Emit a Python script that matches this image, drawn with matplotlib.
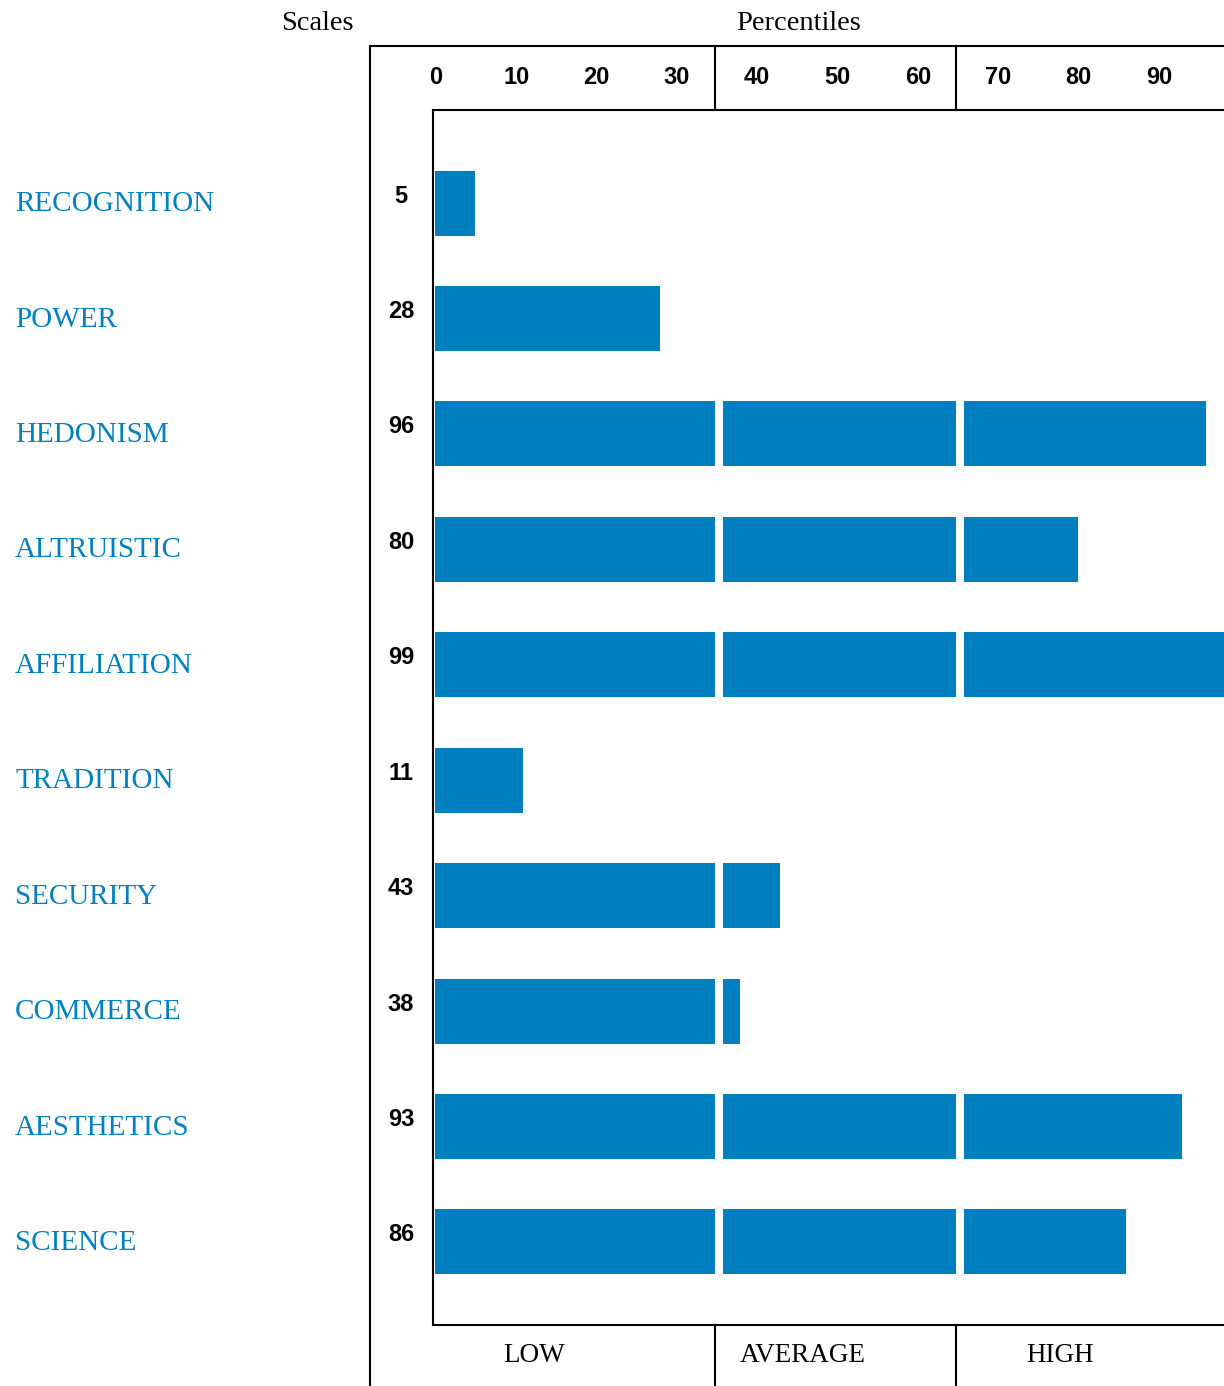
import numpy as np
import matplotlib
matplotlib.use('Agg')
from matplotlib import pyplot as plt
from matplotlib.lines import Line2D
from matplotlib.transforms import blended_transform_factory


# ---------------------------- Data ----------------------------
scales = ['RECOGNITION', 'POWER', 'HEDONISM', 'ALTRUISTIC', 'AFFILIATION',
          'TRADITION', 'SECURITY', 'COMMERCE', 'AESTHETICS', 'SCIENCE']
percentiles = [5, 28, 96, 80, 99, 11, 43, 38, 93, 86]
tick_values = [0, 10, 20, 30, 40, 50, 60, 70, 80, 90]
band_labels = ['LOW', 'AVERAGE', 'HIGH']

# ---------------------------- Style ----------------------------
BLUE = '#0080C1'
SERIF = 'Liberation Serif'
SANS = 'Liberation Sans'
W, H = 1224, 1386
CUTS = [34.8, 64.9]      # band boundaries (low/average, average/high)
GAP = 1.0                # white gap after each boundary


def fx(px):
    return px / W


def fy(py):
    return 1 - py / H


fig = plt.figure(figsize=(W / 100, H / 100), dpi=100)

# main plotting area
ax = fig.add_axes([fx(433), fy(1325), fx(1224) - fx(433), fy(110) - fy(1325)])
ax.set_xlim(-0.25, 98.2)
ax.set_ylim(9.72, -0.806)
ax.set_xticks([])
ax.set_yticks([])
ax.spines['right'].set_visible(False)
for s in ['left', 'top', 'bottom']:
    ax.spines[s].set_linewidth(1.5)

# bars, split in low / average / high segments
rows = np.arange(len(scales))
for i, v in zip(rows, percentiles):
    ax.barh(i, min(v, CUTS[0]), left=0, height=0.563, color=BLUE)
    if v > CUTS[0] + GAP:
        ax.barh(i, min(v, CUTS[1]) - (CUTS[0] + GAP), left=CUTS[0] + GAP, height=0.563, color=BLUE)
    if v > CUTS[1] + GAP:
        ax.barh(i, v - (CUTS[1] + GAP), left=CUTS[1] + GAP, height=0.563, color=BLUE)

# header tick labels
hdr = blended_transform_factory(ax.transData, fig.transFigure)
for t in tick_values:
    ax.text(t + 0.1, fy(78), str(t), transform=hdr, ha='center', va='center',
            fontsize=17, fontweight='bold', family=SANS, clip_on=False)

# band dividers in header and footer
for c in CUTS:
    ax.add_line(Line2D([c, c], [fy(46), fy(110)], transform=hdr, color='black', lw=1.5, clip_on=False))
    ax.add_line(Line2D([c, c], [fy(1325), fy(1386)], transform=hdr, color='black', lw=1.5, clip_on=False))

# outer frame
fig.add_artist(Line2D([fx(370), fx(370)], [fy(46), fy(1386)], color='black', lw=1.5))
fig.add_artist(Line2D([fx(370), fx(1224)], [fy(46), fy(46)], color='black', lw=1.5))

# row labels and values
rowt = blended_transform_factory(fig.transFigure, ax.transData)
for i, (name, v) in enumerate(zip(scales, percentiles)):
    ax.text(fx(15), i + 0.01, name, transform=rowt, ha='left', va='center',
            fontsize=21, color=BLUE, family=SERIF, clip_on=False)
    ax.text(fx(401), i - 0.06, str(v), transform=rowt, ha='center', va='center',
            fontsize=17, fontweight='bold', family=SANS, clip_on=False)

# titles
fig.text(fx(317), fy(23), 'Scales', ha='center', va='center', fontsize=20.5, family=SERIF)
fig.text(fx(799), fy(23), 'Percentiles', ha='center', va='center', fontsize=20.5, family=SERIF)

# footer band labels
for x, lab in zip([534, 803, 1060], band_labels):
    fig.text(fx(x), fy(1356), lab, ha='center', va='center', fontsize=19.5, family=SERIF)

fig.savefig('out.png', dpi=100)
